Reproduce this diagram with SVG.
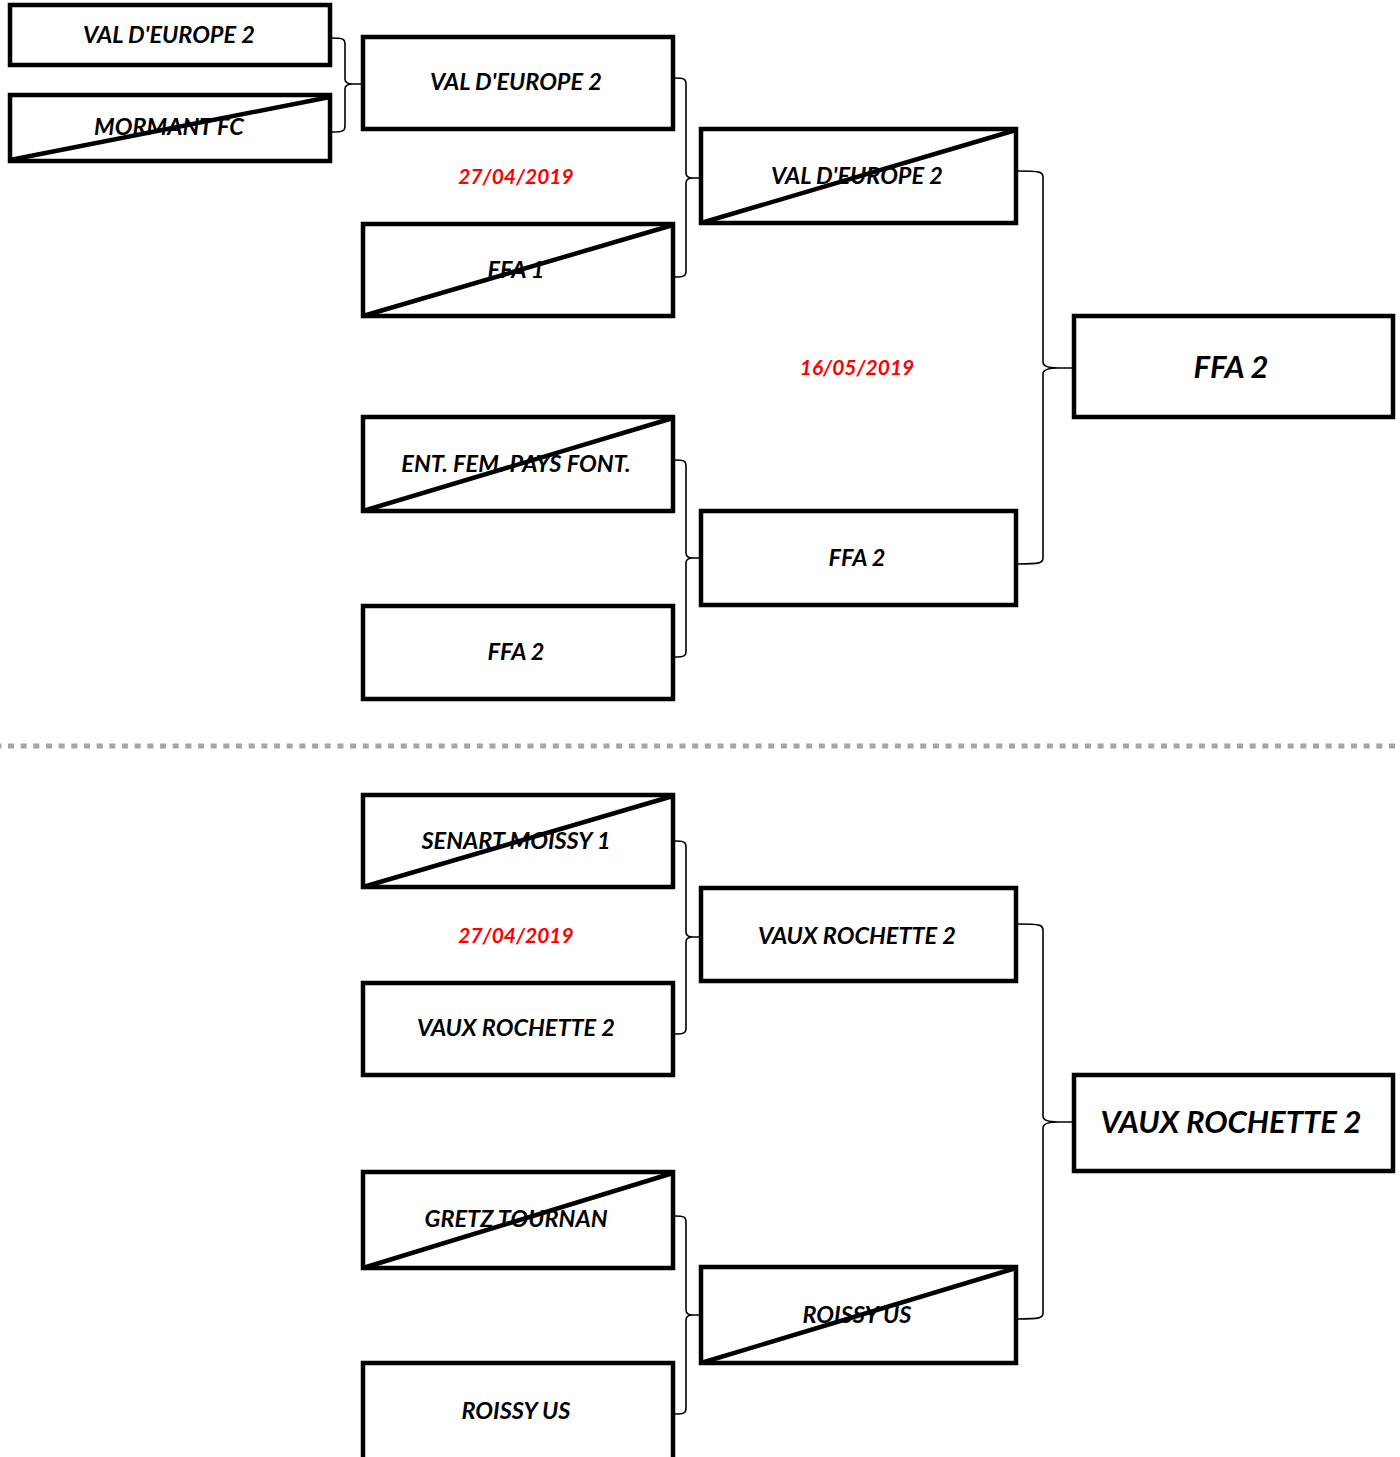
<svg xmlns="http://www.w3.org/2000/svg" width="1400" height="1457" viewBox="0 0 1400 1457">
<style>
.box{fill:#fff;stroke:#000;stroke-width:4.5}
.x{stroke:#000;stroke-width:4.5;fill:none}
.br{fill:none;stroke:#000;stroke-width:1.6}
.t{font-family:Lato,"Liberation Sans",sans-serif;font-weight:bold;font-style:italic;font-size:23.5px;text-anchor:middle;fill:#000}
.big{font-size:31px}
.d{font-family:Lato,"Liberation Sans",sans-serif;font-weight:bold;font-style:italic;font-size:21px;text-anchor:middle;fill:#ff0000}
</style>
<rect width="1400" height="1457" fill="#fff"/>
<g id="connectors">
<path class="br" d="M332,38 C343,38 345,39 345,44 L345,79 C345,83 349,84 353,84 L361,84 M353,84 C349,84 345,85 345,89 L345,126 C345,131 343,132 332,132"/>
<path class="br" d="M675,78 C684,78 686,79 686,84 L686,173 C686,177 690,178 693,178 L700,178 M693,178 C690,178 686,179 686,183 L686,271 C686,276 684,277 675,277"/>
<path class="br" d="M675,460 C684,460 686,461 686,466 L686,553 C686,557 690,558 693,558 L700,558 M693,558 C690,558 686,559 686,563 L686,651 C686,656 684,657 675,657"/>
<path class="br" d="M1018,171 C1040,171 1043,172 1043,177 L1043,362 C1043,366 1048,368 1058,368 L1073,368 M1058,368 C1048,368 1043,370 1043,374 L1043,558 C1043,563 1040,564 1018,564"/>
<path class="br" d="M675,841 C684,841 686,842 686,847 L686,932 C686,936 690,937 693,937 L700,937 M693,937 C690,937 686,938 686,942 L686,1028 C686,1033 684,1034 675,1034"/>
<path class="br" d="M675,1216 C684,1216 686,1217 686,1222 L686,1310 C686,1314 690,1315 693,1315 L700,1315 M693,1315 C690,1315 686,1316 686,1320 L686,1408 C686,1413 684,1414 675,1414"/>
<path class="br" d="M1018,924 C1040,924 1043,925 1043,930 L1043,1116 C1043,1120 1048,1122 1058,1122 L1073,1122 M1058,1122 C1048,1122 1043,1124 1043,1128 L1043,1313 C1043,1318 1040,1319 1018,1319"/>
</g>
<line x1="0" y1="746" x2="1400" y2="746" stroke="#a6a6a6" stroke-width="5" stroke-dasharray="6 6.67" stroke-dashoffset="4.67"/>
<g id="n-val-europe-2-r1">
<rect class="box" x="10" y="5" width="320" height="60"/>
<text class="t" x="169" y="42.5">VAL D'EUROPE 2</text>
</g>
<g id="n-mormant-fc">
<rect class="box" x="10" y="95" width="320" height="66"/>
<text class="t" x="169" y="134.5">MORMANT FC</text>
<line class="x" x1="10" y1="160" x2="330" y2="97"/>
</g>
<g id="n-val-europe-2-r2">
<rect class="box" x="363" y="37" width="310" height="92"/>
<text class="t" x="516" y="90">VAL D'EUROPE 2</text>
</g>
<text class="d" x="516" y="183.5">27/04/2019</text>
<g id="n-ffa-1">
<rect class="box" x="363" y="224" width="310" height="92"/>
<text class="t" x="516" y="277.5">FFA 1</text>
<line class="x" x1="363" y1="316" x2="673" y2="225"/>
</g>
<g id="n-ent-fem">
<rect class="box" x="363" y="417" width="310" height="94"/>
<text class="t" x="516" y="471.5">ENT. FEM. PAYS FONT.</text>
<line class="x" x1="363" y1="511" x2="673" y2="418"/>
</g>
<g id="n-ffa-2-r2">
<rect class="box" x="363" y="606" width="310" height="93"/>
<text class="t" x="516" y="659.5">FFA 2</text>
</g>
<g id="n-val-europe-2-r3">
<rect class="box" x="701" y="129" width="315" height="94"/>
<text class="t" x="857" y="183.5">VAL D'EUROPE 2</text>
<line class="x" x1="701" y1="223" x2="1016" y2="130"/>
</g>
<text class="d" x="857" y="374.5">16/05/2019</text>
<g id="n-ffa-2-r3">
<rect class="box" x="701" y="511" width="315" height="94"/>
<text class="t" x="857" y="565.5">FFA 2</text>
</g>
<g id="n-ffa-2-final">
<rect class="box" x="1074" y="316" width="319" height="101"/>
<text class="t big" x="1231" y="378">FFA 2</text>
</g>
<g id="n-senart-moissy">
<rect class="box" x="363" y="795" width="310" height="92"/>
<text class="t" x="516" y="848.5">SENART MOISSY 1</text>
<line class="x" x1="363" y1="887" x2="673" y2="796"/>
</g>
<text class="d" x="516" y="942.5">27/04/2019</text>
<g id="n-vaux-rochette-2-r2">
<rect class="box" x="363" y="983" width="310" height="92"/>
<text class="t" x="516" y="1035.5">VAUX ROCHETTE 2</text>
</g>
<g id="n-gretz-tournan">
<rect class="box" x="363" y="1172" width="310" height="96"/>
<text class="t" x="516" y="1226.5">GRETZ TOURNAN</text>
<line class="x" x1="363" y1="1268" x2="673" y2="1173"/>
</g>
<g id="n-roissy-us-r2">
<rect class="box" x="363" y="1363" width="310" height="120"/>
<text class="t" x="516" y="1418.5">ROISSY US</text>
</g>
<g id="n-vaux-rochette-2-r3">
<rect class="box" x="701" y="888" width="315" height="93"/>
<text class="t" x="857" y="943.5">VAUX ROCHETTE 2</text>
</g>
<g id="n-roissy-us-r3">
<rect class="box" x="701" y="1267" width="315" height="96"/>
<text class="t" x="857" y="1322.5">ROISSY US</text>
<line class="x" x1="701" y1="1363" x2="1016" y2="1268"/>
</g>
<g id="n-vaux-rochette-2-final">
<rect class="box" x="1074" y="1075" width="319" height="96"/>
<text class="t big" x="1231" y="1133">VAUX ROCHETTE 2</text>
</g>
</svg>
